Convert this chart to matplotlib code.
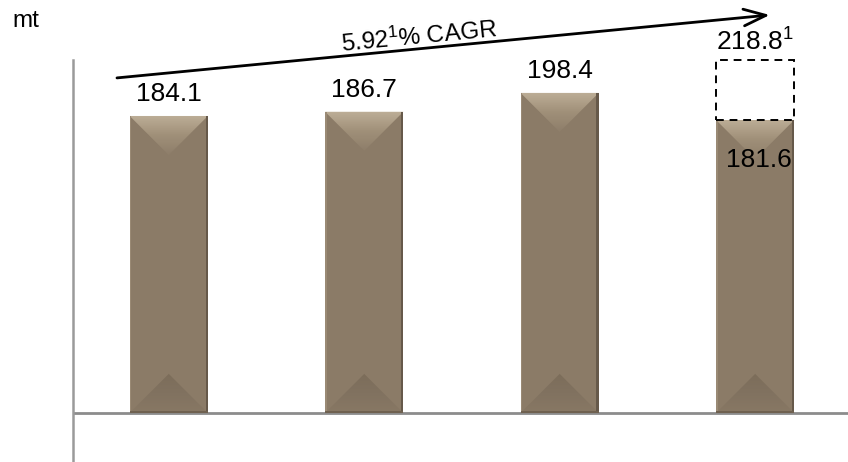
import numpy as np
import matplotlib
matplotlib.use("Agg")
import matplotlib.pyplot as plt
from matplotlib.patches import Polygon, Rectangle
from matplotlib.colors import LinearSegmentedColormap

plt.rcParams['font.family'] = ['Liberation Sans', 'DejaVu Sans']
plt.rcParams['mathtext.fontset'] = 'custom'
plt.rcParams['mathtext.rm'] = 'Liberation Sans'
plt.rcParams['mathtext.it'] = 'Liberation Sans'

# data
years = ['Y1', 'Y2', 'Y3', 'Y4']
values = [184.1, 186.7, 198.4, 181.6]
labels = ['184.1', '186.7', '198.4', '181.6']
target = 218.8                 # dashed box on the last bar
target_label = r'218.8$^{1}$'
cagr_label = r'5.92$^{1}$% CAGR'
unit = 'mt'

body = '#8b7b67'

W, H = 848, 462
fig = plt.figure(figsize=(W / 100, H / 100), dpi=100)
ax = fig.add_axes([73 / W, 0, 775 / W, 402 / H])
x = np.arange(len(values))
ax.set_xlim(-0.49, 3.475)
ax.set_ylim(-30.4, 218.8)

bars = ax.bar(x, values, width=0.4, color=body, zorder=2)

# px per data unit, to make 45 degree bevels
xscale = 775 / (3.475 + 0.49)
yscale = 402 / (218.8 + 30.4)

top_cmap = LinearSegmentedColormap.from_list('top', ['#bdae97', '#a09079', '#8e7e6a'])
bot_cmap = LinearSegmentedColormap.from_list('bot', ['#887864', '#817260', '#7c6d5a'])
grad = np.linspace(0, 1, 64).reshape(-1, 1)

for b in bars:
    x0, w, h = b.get_x(), b.get_width(), b.get_height()
    d = (w / 2) * xscale / yscale
    # top triangle, lighter
    tri = Polygon([(x0, h), (x0 + w, h), (x0 + w / 2, h - d)], closed=True,
                  facecolor='none', edgecolor='none')
    ax.add_patch(tri)
    im = ax.imshow(grad, cmap=top_cmap, aspect='auto', extent=(x0, x0 + w, h - d, h),
                   zorder=3, interpolation='bilinear')
    im.set_clip_path(tri)
    # bottom triangle, darker
    tri2 = Polygon([(x0, 0), (x0 + w, 0), (x0 + w / 2, d)], closed=True,
                   facecolor='none', edgecolor='none')
    ax.add_patch(tri2)
    im2 = ax.imshow(grad, cmap=bot_cmap, aspect='auto', extent=(x0, x0 + w, d, 0),
                    zorder=3, interpolation='bilinear')
    im2.set_clip_path(tri2)
    # edges
    ax.add_patch(Rectangle((x0 + w - 0.012, 0), 0.012, h, facecolor='#66594a',
                           edgecolor='none', zorder=4))
    ax.add_patch(Rectangle((x0, 0), 0.008, h, facecolor='#9a8a75',
                           edgecolor='none', zorder=4))
    ax.add_patch(Rectangle((x0, 0), w, 1.0, facecolor='#6f6150',
                           edgecolor='none', zorder=4))

ax.set_xlim(-0.49, 3.475)
ax.set_ylim(-30.4, 218.8)

# value labels
for i, (v, lab) in enumerate(zip(values, labels)):
    if i < len(values) - 1:
        ax.annotate(lab, (x[i], v), xytext=(0, 7), textcoords='offset points',
                    ha='center', va='bottom', fontsize=19, zorder=5)
    else:
        ax.annotate(lab, (x[i] + 0.02, v), xytext=(0, -29), textcoords='offset points',
                    ha='center', va='center', fontsize=19, zorder=5)

# dashed box for the target
last = bars[-1]
ax.add_patch(Rectangle((last.get_x(), values[-1]), last.get_width(), target - values[-1],
                       fill=False, edgecolor='black', linestyle=(0, (4, 3)), lw=1.4,
                       zorder=5, clip_on=False))
ax.annotate(target_label, (x[-1], target), xytext=(0, 3), textcoords='offset points',
            ha='center', va='bottom', fontsize=19, annotation_clip=False)

# CAGR arrow
ax.annotate('', xy=(3.075, 246.7), xytext=(-0.265, 207.7),
            arrowprops=dict(arrowstyle='->,head_length=1.6,head_width=0.6', lw=2,
                            color='black', shrinkA=0, shrinkB=0),
            annotation_clip=False)
ax.text(1.28, 233, cagr_label, rotation=5.5, ha='center', va='center',
        fontsize=17.5, clip_on=False, rotation_mode='anchor')

# axes lines
for s in ['top', 'right', 'bottom']:
    ax.spines[s].set_visible(False)
ax.spines['left'].set_color('#9a9a9a')
ax.spines['left'].set_linewidth(1.8)
ax.axhline(0, color='#8c8c8c', lw=2, zorder=1)
ax.set_xticks([])
ax.set_yticks([])

fig.text(12 / W, 1 - 21 / H, unit, fontsize=17.5, ha='left', va='center')

fig.savefig('out.png', dpi=100)
